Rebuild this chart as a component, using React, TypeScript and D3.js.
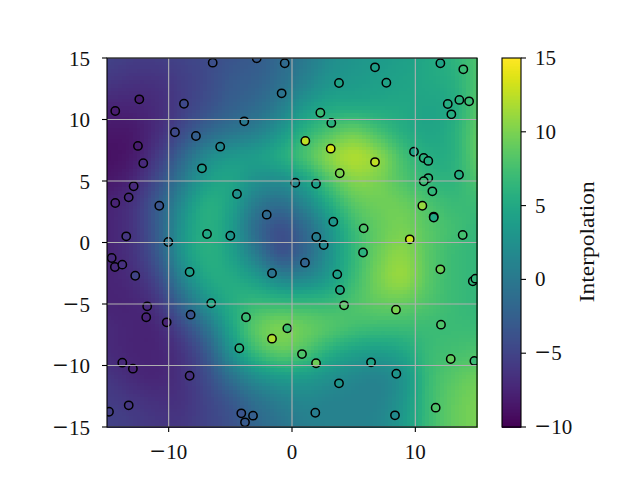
import React, { useMemo } from "react";
import * as d3 from "d3";

const gridX = [-15, -13, -11, -9, -7, -5, -3, -1, 1, 3, 5, 7, 9, 11, 13, 15];
const gridY = [15, 13, 11, 9, 7, 5, 3, 1, -1, -3, -5, -7, -9, -11, -13, -15];
const fieldRows = [
  [-5, -5.5, -5.5, -5, -4.5, -3.5, -3, -1.5, 0, 2, 3, 3.5, 4, 5, 6, 8],
  [-6, -6.5, -6.5, -5.5, -4.5, -3, -2.5, -1, 1, 3, 3.5, 4, 4.5, 5, 5.5, 8],
  [-7.5, -7.5, -7, -5.5, -4, -2.5, -1.5, 0.5, 3.5, 5, 5, 5, 5, 4.5, 5, 8.5],
  [-8.5, -8.5, -7, -4.5, -2, -0.5, 0.5, 3, 6, 8, 9.5, 7.5, 5.5, 4.5, 5.5, 9],
  [-9, -8.5, -6, -2, 2, 3.5, 4, 5.5, 8, 11, 12.5, 11, 7.5, 5.5, 5.5, 9],
  [-8.5, -7.5, -4.5, 0, 4, 5, 2.5, 2, 4, 8, 10.5, 10, 8, 6.5, 6, 8],
  [-7.5, -6.5, -3, 2, 6, 4.5, 0, -1.5, 1, 5, 8.5, 9.5, 9.5, 8, 7, 7],
  [-7.5, -6.5, -3, 3, 6, 4, -1.5, -4.5, -2, 2.5, 7, 9, 10, 8.5, 7.5, 6.5],
  [-7.5, -6.5, -3.5, 3, 6, 4.5, 0.5, -4, -2, 2.5, 6.5, 9.5, 11, 8.5, 7, 6.5],
  [-7.5, -7, -5, 1, 5, 5.5, 4, 1.5, 1.5, 3.5, 7, 10, 11.5, 8.5, 7, 6.5],
  [-7.5, -7.5, -6.5, -2, 2.5, 5.5, 7, 7, 7, 7, 8, 9, 9, 8, 7, 6.5],
  [-7, -7.5, -7.5, -5, -1, 4.5, 9, 10.5, 9.5, 8.5, 7.5, 7, 7, 7, 7, 7],
  [-7, -7.5, -7.5, -6.5, -3.5, 2.5, 7, 9, 8, 5.5, 4, 3.5, 4.5, 7, 7.5, 8],
  [-6, -7, -7.5, -6.5, -4.5, -1, 2, 3.5, 3.5, 2.5, 1.5, 1, 2.5, 7, 8.5, 9.5],
  [-5.5, -6, -6.5, -6.5, -5, -3.5, -1, 0.5, 1.5, 1, 1, 1, 3, 7, 9, 10],
  [-5, -5.5, -6, -6, -5, -4, -2, -0.5, 0.5, 1, 1, 1.5, 3.5, 7, 9, 10],
];

const pointX = [-6.43,-2.86,-0.59,-0.84,-12.38,-14.33,-8.76,-3.87,-9.49,-7.79,-5.82,-12.49,-12.06,-7.3,0.27,-12.84,-13.24,-4.46,-14.33,-10.76,-2.05,-13.44,-10.03,-6.89,-5.0,6.73,12.03,13.89,3.81,7.65,12.63,13.57,14.36,12.92,2.3,3.19,1.08,3.14,6.73,9.89,10.68,11.05,3.87,13.54,11.05,10.68,1.95,11.38,10.57,11.49,11.49,3.35,5.81,13.84,1.97,2.57,9.55,5.76,-14.62,-14.36,-13.76,-12.71,-8.3,-1.62,-11.74,-11.82,-10.16,-8.22,-6.55,-3.73,-0.38,-1.62,-4.27,0.81,-13.76,-12.9,-8.3,-13.24,-14.84,-4.11,-3.16,-3.81,1.05,3.67,3.89,4.22,8.43,12.03,14.66,14.87,12.08,1.95,6.41,12.87,14.79,8.46,3.81,1.89,8.35,11.65];
const pointY = [14.62,14.98,14.57,12.13,11.64,10.69,11.28,9.85,8.96,8.66,7.79,7.85,6.44,6.03,4.86,4.57,3.67,3.94,3.21,2.99,2.26,0.5,0.04,0.69,0.55,14.24,14.57,14.08,12.97,12.99,11.26,11.59,11.48,10.42,10.55,9.72,8.25,7.63,6.54,7.38,6.87,6.63,5.63,5.51,5.24,4.98,4.78,4.16,2.99,2.11,2.03,1.69,1.15,0.61,0.45,-0.2,0.26,-0.81,-1.26,-1.99,-1.8,-2.7,-2.4,-2.5,-5.19,-6.08,-6.49,-5.87,-4.94,-6.08,-6.98,-7.82,-8.6,-9.07,-9.77,-10.26,-10.83,-13.24,-13.76,-13.89,-14.08,-14.62,-1.64,-2.59,-3.86,-5.11,-5.46,-2.18,-3.15,-2.94,-6.68,-9.82,-9.74,-9.47,-9.63,-10.67,-11.45,-13.84,-14.05,-13.43];
const pointV = [-4,-3,-1.5,-0.5,-8,-8,-4.5,0,-4.5,-2.5,1.5,-8,-7,3.5,2,-7,-7,2.5,-7.5,-3.5,-1.5,-6,0,5,3,4,4.5,7,4.5,4.5,5.5,6,7,5.5,7,6,12.5,13.5,12.5,4.5,6,5.5,10,5.5,6.5,7,4,6.5,11,5,5,3,8,7.5,0.5,1.5,13,6,-7,-7,-6.5,-5,4,-0.5,-7,-7.5,-7.5,-3.5,5,7,7.5,12,6,8,-7,-7.5,-6.5,-6,-5.5,-3.5,-2.5,-3,-2,4,5,8.5,10,9.5,6.5,6.5,8,9.5,4.5,9,7,3,3,0.5,2,8];

const xTicks = [-10, 0, 10];
const yTicks = [-15, -10, -5, 0, 5, 10, 15];
const cbTicks = [-10, -5, 0, 5, 10, 15];
const cbLabel = "Interpolation";

const W = 640, H = 480;
const L = 107, R = 477, T = 58, B = 427;
const CL = 502, CR = 521;
const CELLS = 100;
const FONT = "'Liberation Serif', serif";

function TickLabel({ v, ...rest }: any) {
  const style = { fontFamily: FONT, fontSize: 21, fill: "#111" };
  if (v >= 0) return <text {...style} {...rest}>{v}</text>;
  return (
    <text {...style} {...rest}>
      <tspan fontSize={27} dy={1}>{"\u2212"}</tspan>
      <tspan dx={1} dy={-1}>{Math.abs(v)}</tspan>
    </text>
  );
}

// blend of Catmull-Rom and cubic B-spline weights for a smooth upsampling of the grid
function spline(p0: number, p1: number, p2: number, p3: number, t: number) {
  const c = 0.5 * (2 * p1 + (p2 - p0) * t + (2 * p0 - 5 * p1 + 4 * p2 - p3) * t * t + (3 * p1 - p0 - 3 * p2 + p3) * t * t * t);
  const t2 = t * t, t3 = t2 * t;
  const b = ((1 - 3 * t + 3 * t2 - t3) * p0 + (4 - 6 * t2 + 3 * t3) * p1 + (1 + 3 * t + 3 * t2 - 3 * t3) * p2 + t3 * p3) / 6;
  return 0.5 * c + 0.5 * b;
}
function sample(x: number, y: number) {
  const fx = (x - gridX[0]) / 2, fy = (gridY[0] - y) / 2;
  const ix = Math.min(14, Math.floor(fx)), iy = Math.min(14, Math.floor(fy));
  const tx = fx - ix, ty = fy - iy;
  const c = (i: number) => Math.max(0, Math.min(15, i));
  const col = [-1, 0, 1, 2].map((d) => {
    const r = fieldRows[c(iy + d)];
    return spline(r[c(ix - 1)], r[ix], r[c(ix + 1)], r[c(ix + 2)], tx);
  });
  return spline(col[0], col[1], col[2], col[3], ty);
}

export default function App() {
  const x = d3.scaleLinear().domain([-15, 15]).range([L, R]);
  const y = d3.scaleLinear().domain([-15, 15]).range([B, T]);
  const cbY = d3.scaleLinear().domain([-10, 15]).range([B, T]);
  const color = (v: number) => d3.interpolateViridis((v + 10) / 25);
  const step = 30 / CELLS;
  const cells = useMemo(() => {
    const out: { vx: number; vy: number; v: number }[] = [];
    d3.range(CELLS).forEach((i) =>
      d3.range(CELLS).forEach((j) => {
        const vx = -15 + i * step, vy = 15 - j * step;
        out.push({ vx, vy, v: sample(vx + step / 2, vy - step / 2) });
      })
    );
    return out;
  }, []);
  return (
    <svg width={W} height={H} style={{ position: "absolute", left: 0, top: 0, background: "#fff" }}>
      <defs>
        <clipPath id="plot"><rect x={L} y={T} width={R - L} height={B - T} /></clipPath>
      </defs>
      <g shapeRendering="crispEdges">
        {cells.map((c, i) => (
          <rect key={i} x={x(c.vx)} y={y(c.vy)} width={x(c.vx + step) - x(c.vx) + 0.5} height={y(c.vy - step) - y(c.vy) + 0.5} fill={color(c.v)} />
        ))}
      </g>
      <g clipPath="url(#plot)">
        {pointX.map((px, i) => (
          <circle key={i} cx={x(px)} cy={y(pointY[i])} r={4.17} fill={color(pointV[i])} stroke="#000" strokeWidth={1.5} />
        ))}
        {xTicks.map((t) => <line key={t} x1={x(t)} x2={x(t)} y1={T} y2={B} stroke="#b0b0b0" strokeWidth={1.1} />)}
        {yTicks.map((t) => <line key={t} x1={L} x2={R} y1={y(t)} y2={y(t)} stroke="#b0b0b0" strokeWidth={1.1} />)}
      </g>
      <rect x={L} y={T} width={R - L} height={B - T} fill="none" stroke="#000" strokeWidth={1.1} />
      {xTicks.map((t) => (
        <g key={t}>
          <line x1={x(t)} x2={x(t)} y1={B} y2={B + 5} stroke="#000" strokeWidth={1.1} />
          <TickLabel v={t} x={x(t)} y={459} textAnchor="middle" />
        </g>
      ))}
      {yTicks.map((t) => (
        <g key={t}>
          <line x1={L - 5} x2={L} y1={y(t)} y2={y(t)} stroke="#000" strokeWidth={1.1} />
          <TickLabel v={t} x={L - 17} y={y(t) + 7.5} textAnchor="end" />
        </g>
      ))}
      <g shapeRendering="crispEdges">
        {d3.range(256).map((i) => {
          const v0 = -10 + (i * 25) / 256, v1 = -10 + ((i + 1) * 25) / 256;
          return <rect key={i} x={CL} width={CR - CL} y={cbY(v1)} height={cbY(v0) - cbY(v1) + 0.5} fill={color((v0 + v1) / 2)} />;
        })}
      </g>
      <rect x={CL} y={T} width={CR - CL} height={B - T} fill="none" stroke="#000" strokeWidth={1.1} />
      {cbTicks.map((t) => (
        <g key={t}>
          <line x1={CR} x2={CR + 5} y1={cbY(t)} y2={cbY(t)} stroke="#000" strokeWidth={1.1} />
          <TickLabel v={t} x={CR + 14} y={cbY(t) + 7} textAnchor="start" />
        </g>
      ))}
      <text transform="translate(594,241.7) rotate(-90)" textAnchor="middle" textLength={121} lengthAdjust="spacingAndGlyphs" fontFamily={FONT} fontSize={21} fill="#111">{cbLabel}</text>
    </svg>
  );
}
